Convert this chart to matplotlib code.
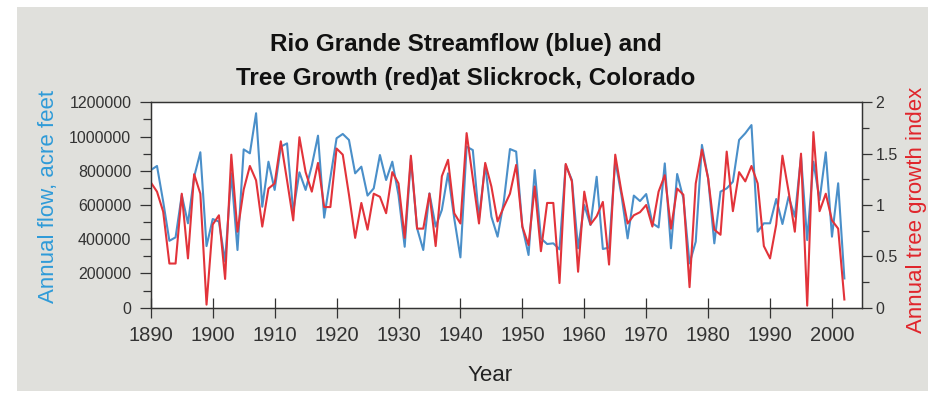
"""
Rio Grande streamflow vs tree growth at Slickrock, Colorado
"""

import numpy as np
import matplotlib
matplotlib.use("Agg")
import matplotlib.pyplot as plt
from matplotlib.patches import Rectangle
from matplotlib.ticker import MultipleLocator

plt.rcParams["font.family"] = ["Liberation Sans", "DejaVu Sans"]

# Data
years = np.arange(1890, 2003)

flow = [
    804000, 828000, 620000, 391000, 411000, 658000, 493000, 765000, 908000, 360000,   # 1890s
    518000, 503000, 270000, 785000, 337000, 925000, 902000, 1136000, 590000, 853000,  # 1900s
    688000, 941000, 960000, 561000, 791000, 688000, 830000, 1005000, 526000, 760000,  # 1910s
    990000, 1015000, 980000, 785000, 824000, 655000, 697000, 892000, 746000, 853000,  # 1920s
    658000, 356000, 870000, 464000, 337000, 668000, 474000, 571000, 785000, 522000,   # 1930s
    294000, 941000, 921000, 522000, 834000, 532000, 415000, 619000, 927000, 912000,   # 1940s
    473000, 308000, 804000, 405000, 372000, 376000, 341000, 834000, 746000, 347000,   # 1950s
    600000, 483000, 765000, 343000, 351000, 860000, 658000, 405000, 655000, 623000,   # 1960s
    664000, 493000, 469000, 843000, 347000, 781000, 639000, 259000, 386000, 951000,   # 1970s
    756000, 376000, 678000, 697000, 736000, 980000, 1019000, 1067000, 444000, 493000, # 1980s
    493000, 635000, 489000, 649000, 532000, 882000, 395000, 853000, 629000, 908000,   # 1990s
    415000, 727000, 171000,                                                           # 2000s
]

growth = [
    1.22, 1.13, 0.935, 0.43, 0.43, 1.11, 0.48, 1.30, 1.11, 0.03,
    0.81, 0.90, 0.28, 1.49, 0.74, 1.15, 1.38, 1.24, 0.79, 1.16,
    1.21, 1.62, 1.24, 0.85, 1.66, 1.32, 1.13, 1.41, 0.98, 0.98,
    1.55, 1.49, 1.10, 0.68, 1.02, 0.76, 1.11, 1.08, 0.92, 1.32,
    1.21, 0.68, 1.48, 0.77, 0.77, 1.11, 0.60, 1.28, 1.44, 0.92,
    0.82, 1.70, 1.26, 0.82, 1.41, 1.18, 0.84, 0.98, 1.11, 1.39,
    0.79, 0.61, 1.18, 0.55, 1.02, 1.02, 0.24, 1.40, 1.23, 0.35,
    1.13, 0.81, 0.89, 1.03, 0.42, 1.49, 1.13, 0.82, 0.90, 0.93,
    1.00, 0.79, 1.13, 1.29, 0.77, 1.16, 1.10, 0.20, 1.21, 1.54,
    1.26, 0.76, 0.71, 1.52, 0.94, 1.32, 1.23, 1.38, 1.21, 0.60,
    0.48, 0.81, 1.48, 1.13, 0.74, 1.50, 0.02, 1.71, 0.94, 1.11,
    0.85, 0.77, 0.08,
]

growth_ticks = [0, 0.5, 1, 1.5, 2]
growth_labels = ["0", "0.5", "1", "1.5", "2"]

BLUE = "#4a8fc9"
RED = "#e2333a"
LABEL_BLUE = "#2f9bd8"
LABEL_RED = "#e0252b"
PANEL = "#e0e0dc"
INK = "#333333"

fig = plt.figure(figsize=(9.41, 3.94), dpi=100)
fig.patch.set_facecolor("white")

# grey panel behind everything
fig.patches.append(Rectangle((17 / 941, 1 - 391 / 394), (928 - 17) / 941, (391 - 7) / 394,
                             transform=fig.transFigure, facecolor=PANEL,
                             edgecolor="none", zorder=-10))

ax = fig.add_axes([150.8 / 941, 1 - 307.7 / 394, 710.9 / 941, 205.4 / 394])
ax.set_facecolor("white")
ax2 = ax.twinx()

ax.plot(years, flow, color=BLUE, lw=1.5, zorder=3)
ax2.plot(years, growth, color=RED, lw=1.5, zorder=2)

ax.set_xlim(1890, 2004.8)
ax.set_ylim(0, 1200000)
ax2.set_ylim(0, 2)

ax.set_xticks(np.arange(1890, 2001, 10))
ax.yaxis.set_major_locator(MultipleLocator(200000))
ax.yaxis.set_minor_locator(MultipleLocator(100000))
ax.ticklabel_format(axis="y", style="plain", useOffset=False)
ax2.set_yticks(growth_ticks)
ax2.set_yticklabels(growth_labels)
ax2.yaxis.set_minor_locator(MultipleLocator(0.25))

ax.tick_params(axis="x", direction="inout", length=14, width=0.9, labelsize=14.5,
               colors=INK, pad=6)
ax.tick_params(axis="y", which="major", direction="out", length=8, width=0.9,
               labelsize=11.5, colors=INK, pad=6)
ax.tick_params(axis="y", which="minor", direction="out", length=6, width=0.9, colors=INK)
ax2.tick_params(axis="y", which="major", direction="out", length=7, width=0.9,
                labelsize=11.5, colors=INK, pad=3)
ax2.tick_params(axis="y", which="minor", direction="out", length=5, width=0.9, colors=INK)

for a in (ax, ax2):
    for s in a.spines.values():
        s.set_color(INK)
        s.set_linewidth(0.9)

ax.set_xlabel("Year", fontsize=16, color="#222222")
ax.xaxis.set_label_coords(0.477, -0.279)
ax.set_ylabel("Annual flow, acre feet", fontsize=16, color=LABEL_BLUE)
ax.yaxis.set_label_coords(-0.1296, 0.54)
ax2.set_ylabel("Annual tree growth index", fontsize=16, color=LABEL_RED)
ax2.yaxis.set_label_coords(1.0623, 0.476)

fig.text(466 / 941, 1 - 45 / 394, "Rio Grande Streamflow (blue) and",
         ha="center", va="center", fontsize=17.5, fontweight="bold", color="#111111")
fig.text(466 / 941, 1 - 79 / 394, "Tree Growth (red)at Slickrock, Colorado",
         ha="center", va="center", fontsize=17.5, fontweight="bold", color="#111111")

fig.savefig("out.png", dpi=100, facecolor="white")
plt.close(fig)
